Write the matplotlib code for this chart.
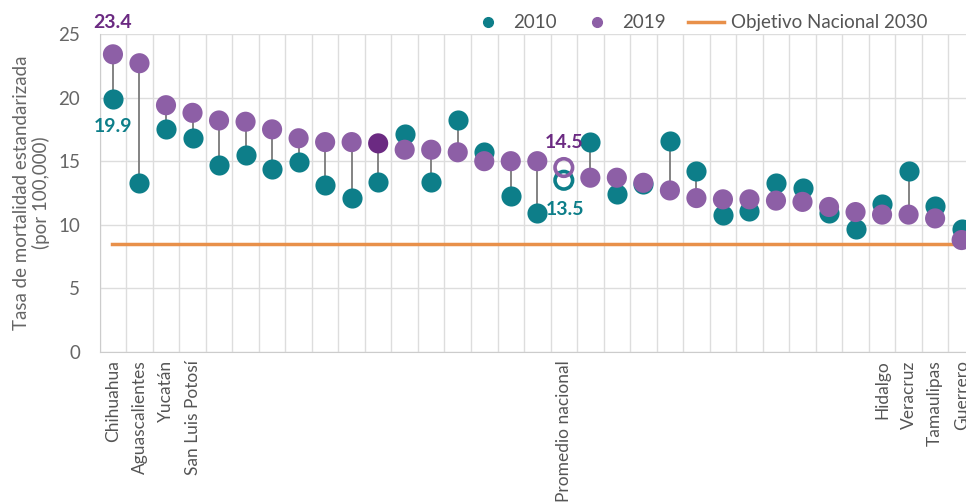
import numpy as np
import matplotlib.pyplot as plt
from matplotlib.lines import Line2D

plt.rcParams['font.family'] = ['Lato', 'DejaVu Sans']

# 33 categorias (estados + promedio nacional); solo algunas llevan etiqueta
etiquetas = ['Chihuahua', 'Aguascalientes', 'Yucatán', 'San Luis Potosí'] + [''] * 13 + \
            ['Promedio nacional'] + [''] * 11 + ['Hidalgo', 'Veracruz', 'Tamaulipas', 'Guerrero']

val_2010 = [19.9, 13.3, 17.5, 16.8, 14.7, 15.5, 14.4, 14.9, 13.1, 12.1, 13.4,
            17.1, 13.4, 18.2, 15.7, 12.3, 10.9, 13.5, 16.5, 12.4, 13.2, 16.6,
            14.2, 10.8, 11.1, 13.3, 12.9, 10.9, 9.7, 11.6, 14.2, 11.5, 9.7]
val_2019 = [23.4, 22.7, 19.4, 18.8, 18.2, 18.1, 17.5, 16.8, 16.5, 16.5, 16.4,
            15.9, 15.9, 15.7, 15.0, 15.0, 15.0, 14.5, 13.7, 13.7, 13.3, 12.7,
            12.1, 12.0, 12.0, 11.9, 11.8, 11.4, 11.0, 10.8, 10.8, 10.5, 8.8]
objetivo_2030 = 8.5
idx_promedio = 17
idx_oscuro = 10

c_2010 = '#0d7e89'
c_2019 = '#8d5fa6'
c_2019_osc = '#6b2a82'
c_obj = '#e8904a'
gris = '#7a7a7a'

fig = plt.figure(figsize=(9.66, 5.04), dpi=100)
ax = fig.add_axes([0.1032, 0.3016, 0.906, 0.631])

x = np.arange(len(etiquetas))
v10 = np.array(val_2010)
v19 = np.array(val_2019)
normal = x != idx_promedio

# conectores
for i in x[normal]:
    ax.plot([i, i], [v10[i], v19[i]], color=gris, lw=1.3, zorder=2)

ax.scatter(x[normal], v10[normal], s=210, color=c_2010, zorder=3, linewidths=0)
col19 = [c_2019_osc if i == idx_oscuro else c_2019 for i in x[normal]]
ax.scatter(x[normal], v19[normal], s=210, color=col19, zorder=4, linewidths=0)

# promedio nacional: circulos huecos
ax.scatter([idx_promedio], [v10[idx_promedio]], s=160, facecolor='none',
           edgecolor=c_2010, linewidths=2.6, zorder=4)
ax.scatter([idx_promedio], [v19[idx_promedio]], s=160, facecolor='none',
           edgecolor=c_2019, linewidths=2.6, zorder=4)

ax.axhline(objetivo_2030, xmin=0.014, xmax=1, color=c_obj, lw=2.5, zorder=1)

# etiquetas de valores
ax.text(0, 25.2, f'{val_2019[0]:.1f}', color='#6b2a82', fontsize=14,
        fontweight='bold', ha='center', va='bottom')
ax.text(0, 17.7, f'{val_2010[0]:.1f}', color=c_2010, fontsize=14,
        fontweight='bold', ha='center', va='center')
ax.text(idx_promedio, 16.5, f'{val_2019[idx_promedio]:.1f}', color='#6b2a82',
        fontsize=14, fontweight='bold', ha='center', va='center')
ax.text(idx_promedio + 0.05, 11.2, f'{val_2010[idx_promedio]:.1f}', color=c_2010,
        fontsize=14, fontweight='bold', ha='center', va='center')

ax.set_xlim(-0.5, len(etiquetas) - 0.5)
ax.set_ylim(0, 25)
ax.set_yticks([0, 5, 10, 15, 20, 25])
ax.set_xticks(x)
ax.set_xticklabels(etiquetas, rotation=90, fontsize=12.5, color='#555555')
ax.set_xticks(np.arange(-0.5, len(etiquetas)), minor=True)
ax.tick_params(axis='x', which='both', length=0, pad=6)
ax.tick_params(axis='y', length=0, labelsize=13.5, labelcolor='#666666', pad=14)
ax.grid(True, which='minor', axis='x', color='#dddddd', lw=1)
ax.grid(True, which='major', axis='y', color='#dddddd', lw=1)
ax.set_axisbelow(True)
for s in ['top', 'right']:
    ax.spines[s].set_visible(False)
for s in ['left', 'bottom']:
    ax.spines[s].set_color('#cccccc')

ax.set_ylabel('Tasa de mortalidad estandarizada\n(por 100,000)', fontsize=13.5,
              color='#666666', labelpad=6, linespacing=1.1)

handles = [Line2D([], [], marker='o', ls='none', color=c_2010, markersize=7),
           Line2D([], [], marker='o', ls='none', color=c_2019, markersize=7),
           Line2D([], [], color=c_obj, lw=2.5)]
fig.legend(handles, ['2010', '2019', 'Objetivo Nacional 2030'], ncol=3,
           loc='center right', bbox_to_anchor=(0.978, 0.955), frameon=False,
           fontsize=13.5, handlelength=1.9, columnspacing=1.2, handletextpad=0.4,
           labelcolor='#555555')

fig.savefig('out.png', dpi=100)
